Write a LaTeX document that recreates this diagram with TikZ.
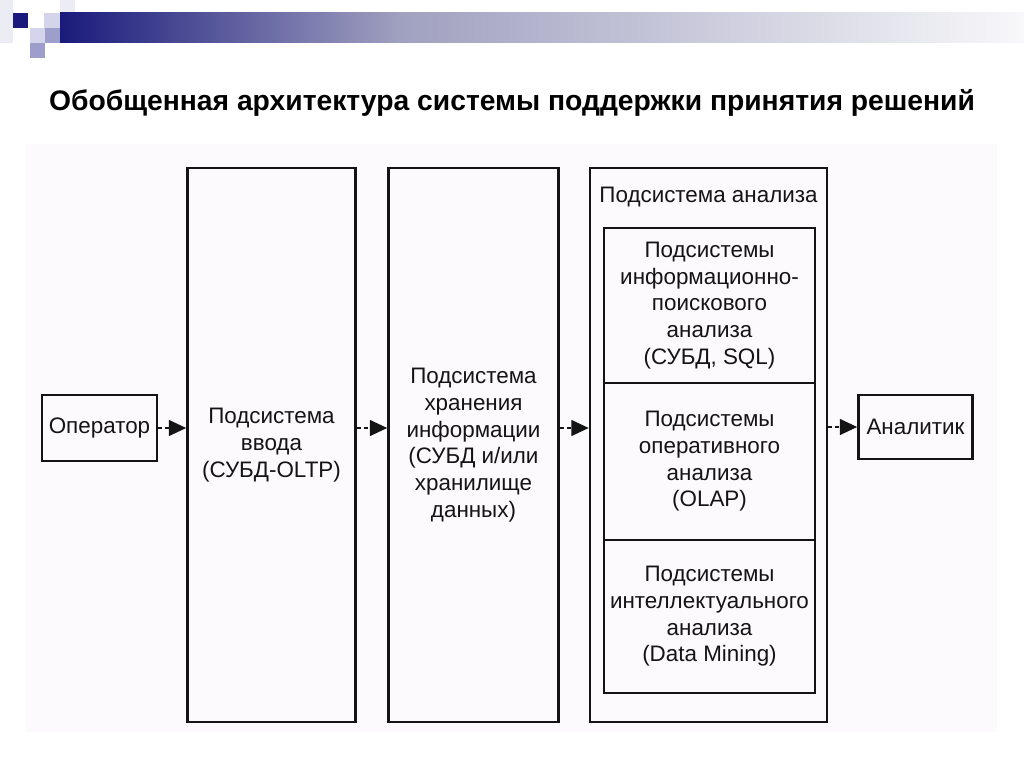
\documentclass[tikz,border=0pt]{standalone}
\usepackage{fontspec}
\setmainfont{Liberation Sans}
\usetikzlibrary{arrows.meta}
\definecolor{navy}{RGB}{26,26,124}
\definecolor{barmid}{RGB}{160,160,192}
\definecolor{barend}{RGB}{248,248,250}
\definecolor{lav}{RGB}{212,212,234}
\definecolor{lavm}{RGB}{158,158,204}
\definecolor{lavl}{RGB}{236,236,244}
\definecolor{scan}{RGB}{253,250,253}
\definecolor{ink}{RGB}{20,20,20}

\begin{document}
\begin{tikzpicture}[x=0.75pt,y=-0.75pt,
    box/.style={draw=ink,line width=2pt,align=center,inner sep=0pt,text=ink,
                font=\fontsize{16.8}{20}\selectfont},
    flow/.style={draw=ink,line width=1pt,dash pattern=on 3pt off 2pt,
                 -{Triangle[length=13pt,width=12pt]}}]
    \useasboundingbox (0,0) rectangle (1024,767);

    \foreach \x/\y/\w/\h/\c in {0/0/13/43/lavl,13/13/15/15/navy,44/13/16/15/lav,
                                 60/0/15/13/lavl,60/13/15/15/lavm,30/28/15/15/lav,
                                 45/28/15/15/lavm,30/43/15/15/lavm}{
            \fill[\c] (\x,\y) rectangle ++(\w,\h);
        }
    \shade[left color=navy,right color=barmid] (60,13) rectangle (400,43);
    \shade[left color=barmid,right color=barend] (399.5,13) rectangle (1024,43);

    \node[font=\bfseries\fontsize{21.2}{24}\selectfont] (title) at (512,103)
        {Обобщенная архитектура системы поддержки принятия решений};

    \fill[scan] (25,144) rectangle (997,732);

    \node[box,minimum width=86.25pt,minimum height=49.5pt] (op) at (99.5,428) {Оператор};
    \node[box,minimum width=126pt,minimum height=415.5pt] (inp) at (271.5,445)
        {Подсистема\\ввода\\(СУБД-OLTP)};
    \node[box,minimum width=127.5pt,minimum height=415.5pt] (store) at (473.5,445)
        {Подсистема\\хранения\\информации\\(СУБД и/или\\хранилище\\данных)};
    \node[box,minimum width=177.75pt,minimum height=415.5pt] (anal) at (708.5,445) {};
    \node[text=ink,font=\fontsize{16.8}{20}\selectfont] (analtitle) at (708.5,197)
        {Подсистема анализа};
    \node[box,minimum width=158.25pt,minimum height=116.25pt] (isr) at (709.5,305.5)
        {Подсистемы\\информационно-\\поискового\\анализа\\(СУБД, SQL)};
    \node[box,minimum width=158.25pt,minimum height=117.75pt] (olap) at (709.5,461.5)
        {Подсистемы\\оперативного\\анализа\\(OLAP)};
    \node[box,minimum width=158.25pt,minimum height=114.75pt] (dm) at (709.5,616.5)
        {Подсистемы\\интеллектуального\\анализа\\(Data Mining)};
    \node[box,minimum width=85.5pt,minimum height=48pt] (an) at (915.5,427) {Аналитик};

    \draw[flow] (op.east) -- (op.east -| inp.west);
    \draw[flow] (op.east -| inp.east) -- (op.east -| store.west);
    \draw[flow] (op.east -| store.east) -- (op.east -| anal.west);
    \draw[flow] (an.west -| anal.east) -- (an.west);
\end{tikzpicture}
\end{document}
